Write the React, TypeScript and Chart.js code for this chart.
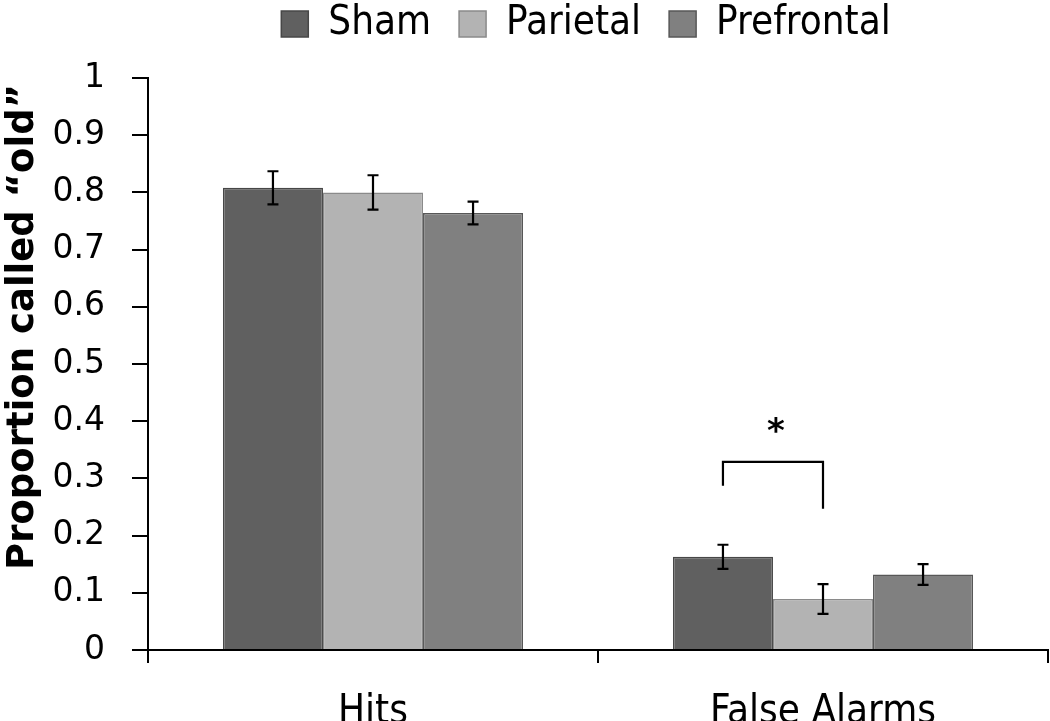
import React, { useEffect, useRef } from "react";
import { Chart, registerables } from "chart.js";

Chart.register(...registerables);

const categories = ["Hits", "False Alarms"];
const seriesNames = ["Sham", "Parietal", "Prefrontal"];
const shamValues = [0.808, 0.163];
const shamErrors = [0.029, 0.021];
const parietalValues = [0.8, 0.089];
const parietalErrors = [0.03, 0.026];
const prefrontalValues = [0.764, 0.132];
const prefrontalErrors = [0.02, 0.018];
const yTickValues = [0, 0.1, 0.2, 0.3, 0.4, 0.5, 0.6, 0.7, 0.8, 0.9, 1];
const yTickLabels = ["0", "0.1", "0.2", "0.3", "0.4", "0.5", "0.6", "0.7", "0.8", "0.9", "1"];
const yTitle = "Proportion called \u201cold\u201d";
// significance bracket: between Sham and Parietal in "False Alarms"
const bracketCategory = 1;
const bracketFrom = 0; // dataset index
const bracketTo = 1;
const bracketLeftEnd = 0.287;
const bracketTop = 0.329;
const bracketRightEnd = 0.247;
const starValue = 0.39;
const starText = "*";

const fills = ["#606060", "#b3b3b3", "#808080"];
const borders = ["#474747", "#8a8a8a", "#575757"];
const narrow = "'Liberation Sans Narrow', 'DejaVu Sans Condensed', sans-serif";

const errorsByDataset = [shamErrors, parietalErrors, prefrontalErrors];

const legendShift = {
  id: "legendShift",
  afterLayout(chart: any) {
    const lg = chart.legend;
    if (!lg) return;
    lg.left += 62;
    lg.right += 62;
    lg.top -= 24;
    lg.bottom -= 24;
  },
};

const overlayPlugin = {
  id: "overlay",
  afterDatasetsDraw(chart: any) {
    const ctx = chart.ctx;
    const y = chart.scales.y;
    ctx.save();
    ctx.strokeStyle = "#000";
    ctx.lineWidth = 2.2;
    // error bars
    chart.data.datasets.forEach((ds: any, di: number) => {
      const meta = chart.getDatasetMeta(di);
      meta.data.forEach((bar: any, i: number) => {
        const v = ds.data[i];
        const e = errorsByDataset[di][i];
        const x = bar.x;
        const yTop = y.getPixelForValue(v + e);
        const yBot = y.getPixelForValue(v - e);
        ctx.beginPath();
        ctx.moveTo(x, yTop);
        ctx.lineTo(x, yBot);
        ctx.moveTo(x - 5.5, yTop);
        ctx.lineTo(x + 5.5, yTop);
        ctx.moveTo(x - 5.5, yBot);
        ctx.lineTo(x + 5.5, yBot);
        ctx.stroke();
      });
    });
    // bracket
    const xl = chart.getDatasetMeta(bracketFrom).data[bracketCategory].x;
    const xr = chart.getDatasetMeta(bracketTo).data[bracketCategory].x;
    ctx.beginPath();
    ctx.moveTo(xl, y.getPixelForValue(bracketLeftEnd));
    ctx.lineTo(xl, y.getPixelForValue(bracketTop));
    ctx.lineTo(xr, y.getPixelForValue(bracketTop));
    ctx.lineTo(xr, y.getPixelForValue(bracketRightEnd));
    ctx.stroke();
    ctx.fillStyle = "#000";
    ctx.font = "bold 34px 'DejaVu Sans', sans-serif";
    ctx.textAlign = "center";
    ctx.textBaseline = "middle";
    ctx.fillText(starText, (xl + xr) / 2 + 3, y.getPixelForValue(starValue) + 6);
    // y title
    ctx.save();
    ctx.translate(23, 327);
    ctx.rotate(-Math.PI / 2);
    ctx.font = "bold 37px 'DejaVu Sans', sans-serif";
    ctx.textAlign = "center";
    ctx.textBaseline = "middle";
    ctx.fillText(yTitle, 0, 0);
    ctx.restore();
    ctx.restore();
  },
};

export default function App() {
  const ref = useRef<HTMLCanvasElement | null>(null);
  useEffect(() => {
    document.body.style.margin = "0";
    const canvas = ref.current;
    if (!canvas) return;
    const valueSets = [shamValues, parietalValues, prefrontalValues];
    const chart = new Chart(canvas, {
      type: "bar",
      data: {
        labels: categories,
        datasets: seriesNames.map((name, i) => ({
          label: name,
          data: valueSets[i],
          backgroundColor: fills[i],
          borderColor: borders[i],
          borderWidth: 1.5,
          categoryPercentage: 0.667,
          barPercentage: 1,
        })),
      },
      options: {
        animation: false,
        responsive: false,
        maintainAspectRatio: false,
        layout: { padding: { left: 0, right: 2, top: 0, bottom: 0 } },
        plugins: {
          tooltip: { enabled: false },
          legend: {
            display: true,
            position: "top",
            labels: {
              boxWidth: 27,
              boxHeight: 26,
              padding: 28,
              color: "#000",
              font: { family: narrow, size: 40 },
            },
          },
        },
        scales: {
          x: {
            grid: {
              offset: true,
              drawOnChartArea: false,
              drawTicks: true,
              tickLength: 13,
              color: "#000",
              lineWidth: 2,
            },
            border: { display: true, color: "#000", width: 2 },
            ticks: {
              color: "#000",
              font: { family: narrow, size: 40 },
              padding: 26,
              maxRotation: 0,
            },
            afterFit(scale: any) {
              scale.height = 71;
            },
          },
          y: {
            min: 0,
            max: 1,
            afterBuildTicks(scale: any) {
              scale.ticks = yTickValues.map((v) => ({ value: v }));
            },
            grid: {
              drawOnChartArea: false,
              drawTicks: true,
              tickLength: 16,
              color: "#000",
              lineWidth: 2,
            },
            border: { display: true, color: "#000", width: 2 },
            ticks: {
              color: "#000",
              font: { family: "'DejaVu Sans', sans-serif", size: 33 },
              padding: 27,
              callback: (_v: any, i: number) => yTickLabels[i],
            },
            afterFit(scale: any) {
              scale.width = 148;
            },
          },
        },
      },
      plugins: [legendShift, overlayPlugin],
    });
    return () => chart.destroy();
  }, []);
  return (
    <div style={{ width: 1050, height: 721, position: "relative", overflow: "hidden" }}>
      <canvas ref={ref} width={1050} height={721} style={{ display: "block" }} />
    </div>
  );
}
